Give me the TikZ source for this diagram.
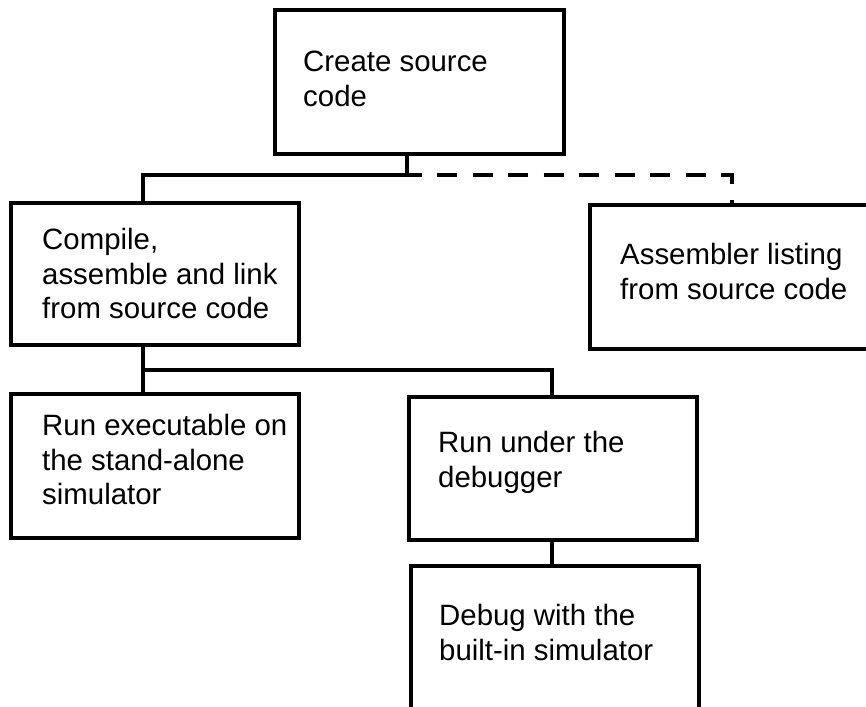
\documentclass[tikz,border=0pt]{standalone}
\usepackage{fontspec}
\setmainfont{Liberation Sans}
\begin{document}
\begin{tikzpicture}[x=1pt,y=-1pt,
  stagebox/.style={draw=black, line width=3.6pt, rectangle, inner sep=0pt,
    anchor=north west, minimum width=288pt, minimum height=144pt},
  caption/.style={anchor=north west, inner sep=0pt, align=left,
    font=\fontsize{29.4}{34.5}\selectfont},
  link/.style={draw=black, line width=3.2pt},
  optlink/.style={link, dash pattern=on 20pt off 15.5pt, dash phase=5.5pt}]
  \useasboundingbox (0,0) rectangle (866,706);
  \clip (0,0) rectangle (866,706);

  % boxes
  \node[stagebox, minimum width=289pt] (create) at (273,8) {};
  \node[stagebox, minimum height=142pt] (compile) at (9,201) {};
  \node[stagebox] (listing) at (588,203) {};
  \node[stagebox] (standalone) at (9,392) {};
  \node[stagebox, minimum height=143pt] (debugger) at (407,395) {};
  \node[stagebox] (builtin) at (409,564) {};

  % box texts
  \node[caption] (tcreate) at (303,51) {Create source\\code};
  \node[caption] (tcompile) at (42,228) {Compile,\\assemble and link\\from source code};
  \node[caption] (tlisting) at (620,243) {Assembler listing\\from source code};
  \node[caption] (tstandalone) at (42,414) {Run executable on\\the stand-alone\\simulator};
  \node[caption] (tdebugger) at (438,431) {Run under the\\debugger};
  \node[caption] (tbuiltin) at (439,604) {Debug with the\\built-in simulator};

  % junction points of the tree
  \coordinate (split1) at (407,175);
  \coordinate (split2) at (143,370);
  \coordinate (rcol) at (732,0);
  \coordinate (dcol) at (552,0);

  % connectors
  \draw[link] (split1 |- create.south) -- (split1) -| (split2 |- compile.north);
  \draw[optlink] (split1) -| (rcol |- listing.north);
  \draw[link] (split2 |- compile.south) -- (split2 |- standalone.north);
  \draw[link] (split2) -| (dcol |- debugger.north);
  \draw[link] (dcol |- debugger.south) -- (dcol |- builtin.north);
\end{tikzpicture}
\end{document}
